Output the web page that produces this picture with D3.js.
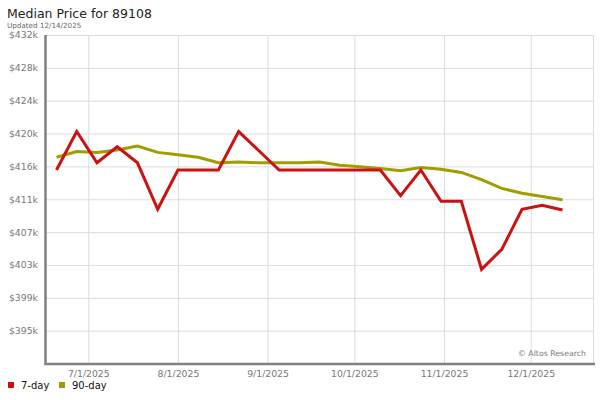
<!DOCTYPE html>
<html>
<head>
<meta charset="utf-8">
<script src="https://cdn.jsdelivr.net/npm/d3@7"></script>
<style>
  body { margin: 0; background: #fff; }
  #content svg { display: block; font-family: 'DejaVu Sans', sans-serif; }
</style>
</head>
<body>
<div id="content"></div>
<script>
// weekly data points (dates) and median prices in $k
const weeks = ['2025-06-20', '2025-06-27', '2025-07-04', '2025-07-11', '2025-07-18', '2025-07-25',
               '2025-08-01', '2025-08-08', '2025-08-15', '2025-08-22', '2025-08-29', '2025-09-05',
               '2025-09-12', '2025-09-19', '2025-09-26', '2025-10-03', '2025-10-10', '2025-10-17',
               '2025-10-24', '2025-10-31', '2025-11-07', '2025-11-14', '2025-11-21', '2025-11-28',
               '2025-12-05', '2025-12-12'];

const sevenDay = [415.1, 419.9, 416.0, 418.0, 416.0, 410.2, 415.1, 415.1, 415.1, 419.9, 417.5, 415.1,
                  415.1, 415.1, 415.1, 415.1, 415.1, 411.9, 415.1, 411.2, 411.2, 402.7, 405.2, 410.2,
                  410.7, 410.1];

const ninetyDay = [416.7, 417.4, 417.3, 417.6, 418.1, 417.3, 417.0, 416.7, 416.0, 416.1, 416.0, 416.0,
                   416.0, 416.1, 415.7, 415.5, 415.3, 415.0, 415.4, 415.2, 414.8, 413.9, 412.8, 412.2,
                   411.8, 411.4];

const yTicks = [431.95, 427.85, 423.75, 419.65, 415.55, 411.45, 407.35, 403.25, 399.15, 395.05];
const monthTicks = ['2025-07-01', '2025-08-01', '2025-09-01', '2025-10-01', '2025-11-01', '2025-12-01'];

const seriesNames = ['7-day', '90-day'];
const seriesColors = ['#cc1111', '#a19d00'];

const parse = d3.timeParse('%Y-%m-%d');
const margin = { top: 35, right: 7, bottom: 36, left: 46 };
const width = 547;
const height = 328.5;

const svg = d3.select('#content').append('svg')
              .attr('width', 600)
              .attr('height', 400);

svg.append('text')
   .attr('x', 7).attr('y', 18)
   .attr('font-size', 12.5)
   .attr('fill', '#222')
   .text('Median Price for 89108');

svg.append('text')
   .attr('x', 7).attr('y', 27.5)
   .attr('font-size', 7.2)
   .attr('fill', '#666')
   .text('Updated 12/14/2025');

const g = svg.append('g')
             .attr('transform', `translate(${margin.left}, ${margin.top})`);

const x = d3.scaleTime()
            .domain([new Date(2025, 5, 16, 9), new Date(2025, 11, 22, 13)])
            .range([0, width]);

const y = d3.scaleLinear()
            .domain([390.95, 431.95])
            .range([height, 0]);

const yAxis = d3.axisLeft(y)
                .tickValues(yTicks)
                .tickSize(-width)
                .tickPadding(8)
                .tickFormat(d => '$' + Math.round(d) + 'k');

const xAxis = d3.axisBottom(x)
                .tickValues(monthTicks.map(parse))
                .tickSize(-height)
                .tickPadding(7)
                .tickFormat(d3.timeFormat('%-m/%-d/%Y'));

const yGuide = g.append('g').call(yAxis);
const xGuide = g.append('g')
                .attr('transform', `translate(0, ${height})`)
                .call(xAxis);

[yGuide, xGuide].forEach(guide => {
  guide.select('.domain').remove();
  guide.selectAll('line').attr('stroke', '#dcdcdc');
  guide.selectAll('text')
       .attr('fill', '#777')
       .attr('font-size', 9.3)
       .attr('font-family', 'DejaVu Sans, sans-serif');
});

// right border
g.append('line')
 .attr('x1', width + 0.5).attr('x2', width + 0.5)
 .attr('y1', 0).attr('y2', height)
 .attr('stroke', '#dcdcdc');

g.append('text')
 .attr('x', width - 7).attr('y', height - 7.5)
 .attr('text-anchor', 'end')
 .attr('font-size', 7.8)
 .attr('fill', '#777')
 .text('\u00a9 Altos Research');

const line = d3.line()
               .x(d => x(d.date))
               .y(d => y(d.value));

[ninetyDay, sevenDay].forEach((values, i) => {
  const data = values.map((v, j) => ({ date: parse(weeks[j]), value: v }));
  g.append('path')
   .datum(data)
   .attr('fill', 'none')
   .attr('stroke', i === 0 ? seriesColors[1] : seriesColors[0])
   .attr('stroke-width', 3)
   .attr('d', line);
});

// axis lines
g.append('line')
 .attr('x1', -0.5).attr('x2', -0.5)
 .attr('y1', 0).attr('y2', height + 1.5)
 .attr('stroke', '#808080')
 .attr('stroke-width', 2.5);

g.append('line')
 .attr('x1', -1.5).attr('x2', width + 2)
 .attr('y1', height + 0.5).attr('y2', height + 0.5)
 .attr('stroke', '#808080')
 .attr('stroke-width', 2.5);

// legend
const legend = svg.append('g').attr('transform', 'translate(8, 382)');
const legendX = [0, 51];
seriesNames.forEach((name, i) => {
  legend.append('rect')
        .attr('x', legendX[i]).attr('y', 0)
        .attr('width', 6).attr('height', 6)
        .attr('fill', seriesColors[i]);
  legend.append('text')
        .attr('x', legendX[i] + 13).attr('y', 7.3)
        .attr('font-size', 10)
        .attr('fill', '#111')
        .text(name);
});
</script>
</body>
</html>
